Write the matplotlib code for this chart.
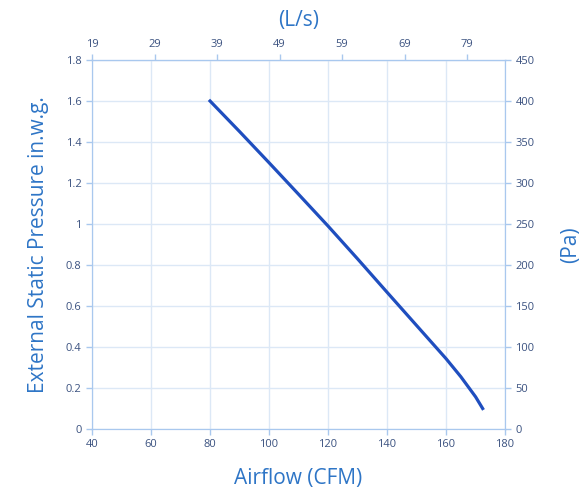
import matplotlib.pyplot as plt
import numpy as np

plt.rcParams['font.family'] = ['Open Sans', 'DejaVu Sans']

# fan curve
cfm = [80, 90, 100, 110, 120, 130, 140, 145, 150, 155, 160, 165, 170, 172.4]
esp = [1.6, 1.451, 1.299, 1.145, 0.99, 0.83, 0.667, 0.586, 0.505, 0.424, 0.343, 0.255, 0.157, 0.1]

x_ticks = [40, 60, 80, 100, 120, 140, 160, 180]
y_ticks = [0, 0.2, 0.4, 0.6, 0.8, 1, 1.2, 1.4, 1.6, 1.8]
y_labels = ['0', '0.2', '0.4', '0.6', '0.8', '1', '1.2', '1.4', '1.6', '1.8']
pa_ticks = [0, 50, 100, 150, 200, 250, 300, 350, 400, 450]
lps_labels = ['19', '29', '39', '49', '59', '69', '79']

CFM_TO_LPS = 0.4719474

title_c = '#2E75C6'
tick_c = '#3B5280'
spine_c = '#A9C8EE'
grid_c = '#DCE8F6'
line_c = '#1F4EBF'

fig = plt.figure(figsize=(5.88, 4.95), dpi=100)
ax = fig.add_axes([0.1565, 0.1333, 0.7025, 0.7455])

ax.plot(cfm, esp, color=line_c, lw=2.3, solid_joinstyle='round')
ax.set_xlim(40, 180)
ax.set_ylim(0, 1.8)
ax.set_xticks(x_ticks)
ax.set_yticks(y_ticks, y_labels)
ax.grid(True, color=grid_c, lw=1)
ax.set_axisbelow(True)

for s in ax.spines.values():
    s.set_color(spine_c)
ax.tick_params(colors=spine_c, labelcolor=tick_c, labelsize=8, length=4, width=1)

ax.set_xlabel('Airflow (CFM)', color=title_c, fontsize=15, labelpad=13)
ax.set_ylabel('External Static Pressure in.w.g.', color=title_c, fontsize=15, labelpad=12)

# right axis in Pa
ax2 = ax.twinx()
ax2.set_ylim(0, 450)
ax2.set_yticks(pa_ticks)
for s in ax2.spines.values():
    s.set_color(spine_c)
ax2.tick_params(colors=spine_c, labelcolor=tick_c, labelsize=8, length=4, width=1)
ax2.set_ylabel('(Pa)', color=title_c, fontsize=15, labelpad=18)

# top axis in L/s
top = ax.secondary_xaxis('top', functions=(lambda v: v * CFM_TO_LPS,
                                           lambda v: v / CFM_TO_LPS))
lps0 = 40 * CFM_TO_LPS
top.set_xticks([lps0 + 10 * i for i in range(len(lps_labels))], lps_labels)
top.spines['top'].set_color(spine_c)
top.tick_params(colors=spine_c, labelcolor=tick_c, labelsize=8, length=4, width=1)
top.set_xlabel('(L/s)', color=title_c, fontsize=15, labelpad=9)

fig.savefig('out.png', dpi=100)
